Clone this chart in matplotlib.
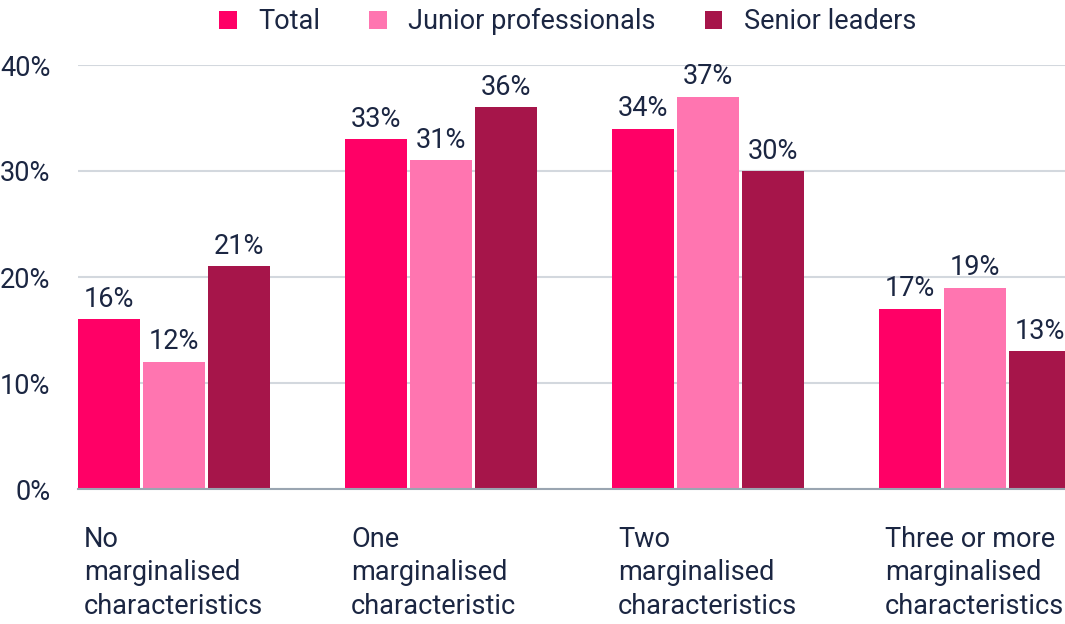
import matplotlib
matplotlib.use("Agg")
import matplotlib.pyplot as plt
import numpy as np

categories = ["No\nmarginalised\ncharacteristics",
              "One\nmarginalised\ncharacteristic",
              "Two\nmarginalised\ncharacteristics",
              "Three or more\nmarginalised\ncharacteristics"]
total = [16, 33, 34, 17]
junior = [12, 31, 37, 19]
senior = [21, 36, 30, 13]
series_names = ["Total", "Junior professionals", "Senior leaders"]
colors = ["#FF0066", "#FF75B0", "#A6154A"]
text_color = "#1B2642"

plt.rcParams['font.family'] = ['Roboto', 'DejaVu Sans']
fs = 19.5

fig = plt.figure(figsize=(10.65, 6.24), dpi=100)
ax = fig.add_axes([78 / 1065, 1 - 489 / 624, 1 - 78 / 1065, (489 - 65) / 624])

x = np.arange(len(categories))
pitch = 0.243
width = 0.232
for k, (vals, name, c) in enumerate(zip([total, junior, senior], series_names, colors)):
    pos = x + (k - 1) * pitch
    ax.bar(pos, vals, width=width, color=c, label=name, zorder=3)
    for p, v in zip(pos, vals):
        ax.text(p, v + 0.6, f"{v}%", ha="center", va="bottom", fontsize=fs,
                color=text_color, zorder=4)

ax.set_xlim(-0.36, 3.337)
ax.set_ylim(0, 40)
ax.set_yticks([0, 10, 20, 30, 40])
ax.set_yticklabels([f"{t}%" for t in [0, 10, 20, 30, 40]], fontsize=fs, color=text_color)
ax.tick_params(axis="y", length=0, pad=20)
ax.set_xticks([])
ax.grid(axis="y", color="#D3D8DE", linewidth=1.5, zorder=0)
for s in ["top", "right", "left"]:
    ax.spines[s].set_visible(False)
ax.spines["bottom"].set_color("#9AA5B1")
ax.spines["bottom"].set_linewidth(1.5)
ax.spines["bottom"].set_zorder(5)

for i, lab in enumerate(categories):
    ax.text(i - 0.337, -3.5, lab, ha="left", va="top", fontsize=fs,
            color=text_color, linespacing=1.3, clip_on=False)

leg = fig.legend(loc="center", bbox_to_anchor=(0.533, 0.965), ncol=3, frameon=False,
                 fontsize=fs, handlelength=0.65, handleheight=0.65, handletextpad=0.8,
                 columnspacing=1.8)
for t in leg.get_texts():
    t.set_color(text_color)

fig.savefig("out.png", dpi=100)
